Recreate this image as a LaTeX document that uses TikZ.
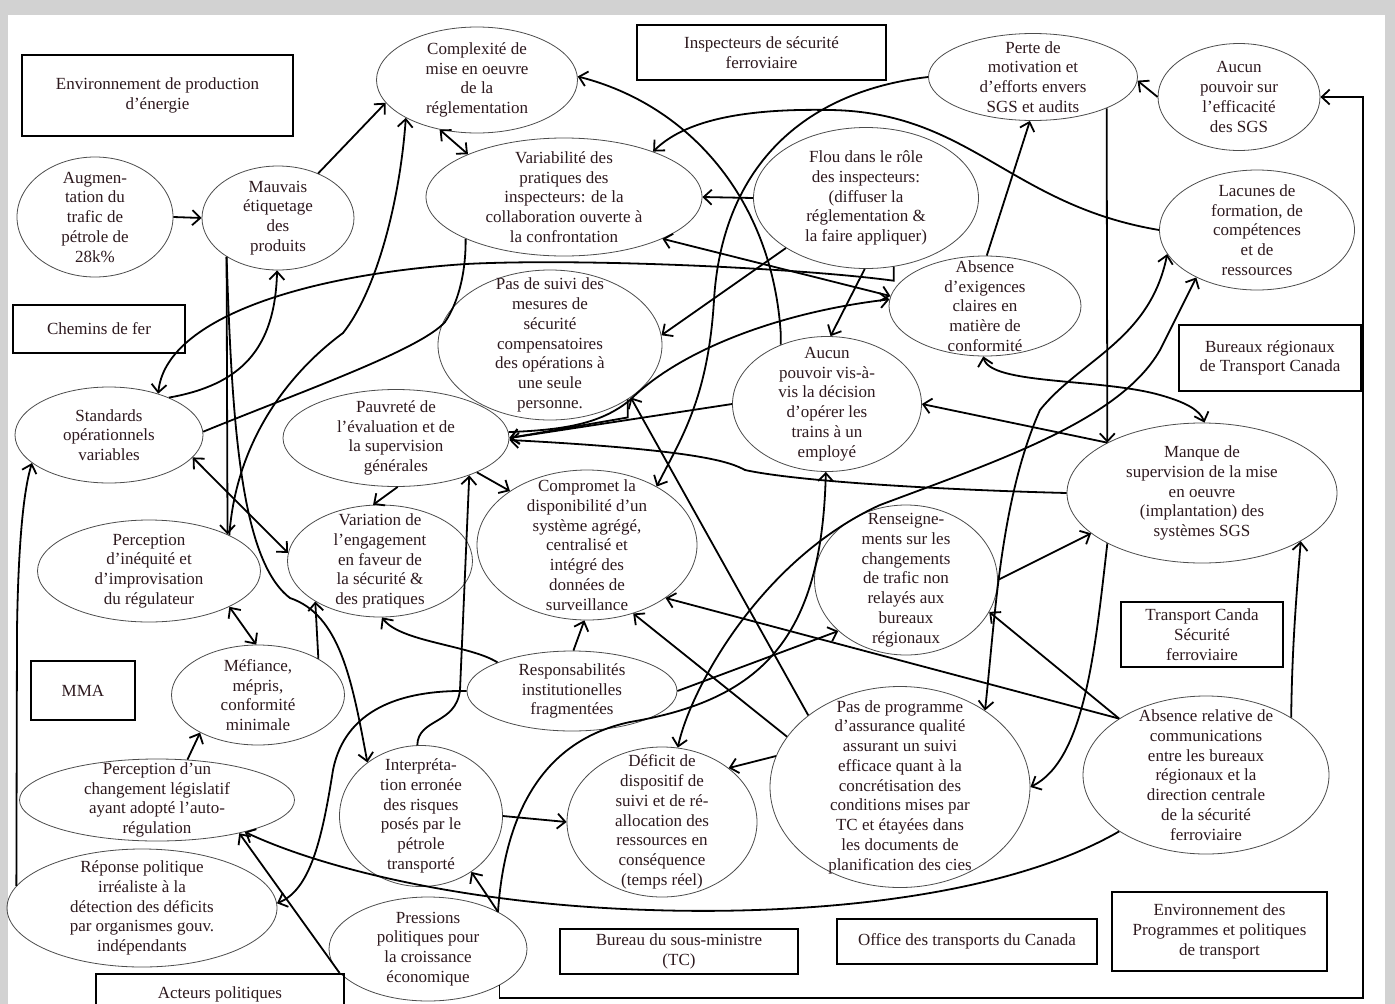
\documentclass[tikz,border=0pt]{standalone}
\usepackage{fontspec}
\setmainfont{Liberation Serif}
\usetikzlibrary{shapes.geometric,arrows.meta}
\newcommand\figfont{\fontsize{17}{19.75}\selectfont}
\definecolor{txt}{RGB}{45,25,30}
\tikzset{
 el/.style={ellipse, draw=black!70, line width=0.8pt, inner sep=0pt},
 tx/.style={align=center, inner sep=0pt, font=\figfont, text=txt},
 bx/.style={rectangle, draw=black, line width=2.8pt, inner sep=0pt, align=center, font=\figfont, text=txt},
 ln/.style={line width=1.8pt, black},
 ar/.style={ln, -{Straight Barb[length=8pt,width=15pt]}},
 dar/.style={ln, {Straight Barb[length=8pt,width=15pt]}-{Straight Barb[length=8pt,width=15pt]}},
}
\newcommand\elnode[6]{% name, x, y, w, h, text
 \node[el, minimum width=#4pt, minimum height=#5pt] (#1) at (#2,#3) {};
 \node[tx] (#1t) at (#2,#3) {#6};}
\begin{document}
\begin{tikzpicture}[x=1pt,y=-1pt]
\useasboundingbox (0,0) rectangle (1395,1004);
\fill[gray!35] (0,0) rectangle (1395,1004);
\fill[white] (8,15) rectangle (1385,1004);
% ellipses
\elnode{comp}{477}{80}{201}{106}{Complexité de\\mise en oeuvre\\de la\\réglementation}
\elnode{vari}{564}{197}{276}{118}{Variabilité des\\pratiques des\\inspecteurs: de la\\collaboration ouverte à\\la confrontation}
\elnode{flou}{866}{198}{225}{141}{Flou dans le rôle\\des inspecteurs:\\(diffuser la\\réglementation \&\\la faire appliquer)}
\elnode{perte}{1033}{77}{209}{87}{Perte de\\motivation et\\d'efforts envers\\SGS et audits}
\elnode{aucsgs}{1239}{97}{162}{107}{Aucun\\pouvoir sur\\l'efficacité\\des SGS}
\elnode{lacu}{1257}{230}{195}{120}{Lacunes de\\formation, de\\compétences\\et de\\ressources}
\elnode{absx}{985}{306}{192}{100}{Absence\\d'exigences\\claires en\\matière de\\conformité}
\elnode{augm}{95}{217}{156}{120}{Augmen-\\tation du\\trafic de\\pétrole de\\28k\%}
\elnode{mauv}{278}{218}{152}{104}{Mauvais\\étiquetage\\des\\produits}
\elnode{pasuivi}{550}{345}{224}{150}{Pas de suivi des\\mesures de\\sécurité\\compensatoires\\des opérations à\\une seule\\personne.}
\elnode{aucvis}{827}{404}{189}{135}{Aucun\\pouvoir vis-à-\\vis la décision\\d'opérer les\\trains à un\\employé}
\elnode{stand}{109}{435}{188}{96}{Standards\\opérationnels\\variables}
\elnode{pauv}{396}{438}{226}{97}{Pauvreté de\\l'évaluation et de\\la supervision\\générales}
\elnode{comprom}{587}{545}{220}{150}{Compromet la\\disponibilité d'un\\système agrégé,\\centralisé et\\intégré des\\données de\\surveillance}
\elnode{variat}{380}{561}{185}{112}{Variation de\\l'engagement\\en faveur de\\la sécurité \&\\des pratiques}
\elnode{perceq}{149}{571}{223}{102}{Perception\\d'inéquité et\\d'improvisation\\du régulateur}
\elnode{manque}{1202}{493}{270}{140}{Manque de\\supervision de la mise\\en oeuvre\\(implantation) des\\systèmes SGS}
\elnode{rens}{906}{580}{183}{150}{Renseigne-\\ments sur les\\changements\\de trafic non\\relayés aux\\bureaux\\régionaux}
\elnode{mefi}{258}{695}{173}{100}{Méfiance,\\mépris,\\conformité\\minimale}
\elnode{resp}{572}{691}{210}{80}{Responsabilités\\institutionelles\\fragmentées}
\elnode{percch}{157}{800}{275}{82}{Perception d'un\\changement législatif\\ayant adopté l'auto-\\régulation}
\elnode{interp}{421}{816}{163}{141}{Interpréta-\\tion erronée\\des risques\\posés par le\\pétrole\\transporté}
\elnode{defic}{662}{822}{190}{150}{Déficit de\\dispositif de\\suivi et de ré-\\allocation des\\ressources en\\conséquence\\(temps réel)}
\elnode{pasprog}{900}{787}{260}{201}{Pas de programme\\d'assurance qualité\\assurant un suivi\\efficace quant à la\\concrétisation des\\conditions mises par\\TC et étayées dans\\les documents de\\planification des cies}
\elnode{absrel}{1206}{775}{246}{158}{Absence relative de\\communications\\entre les bureaux\\régionaux et la\\direction centrale\\de la sécurité\\ferroviaire}
\elnode{reppol}{142}{908}{270}{118}{Réponse politique\\irréaliste à la\\détection des déficits\\par organismes gouv.\\indépendants}
\elnode{press}{428}{949}{198}{104}{Pressions\\politiques pour\\la croissance\\économique}
% boxes
\node[bx, minimum width=271pt, minimum height=81pt] (envprod) at (157.5,95.5) {Environnement de production\\d'énergie};
\node[bx, minimum width=249pt, minimum height=55pt] (insp) at (761.5,52.5) {Inspecteurs de sécurité\\ferroviaire};
\node[bx, minimum width=172pt, minimum height=48pt] (chemins) at (99,329) {Chemins de fer};
\node[bx, minimum width=182pt, minimum height=66pt] (bureaux) at (1270,358) {Bureaux régionaux\\de Transport Canada};
\node[bx, minimum width=162pt, minimum height=65pt] (tcsf) at (1202,634.5) {Transport Canda\\Sécurité\\ferroviaire};
\node[bx, minimum width=104pt, minimum height=59pt] (mma) at (83,690.5) {MMA};
\node[bx, minimum width=248pt, minimum height=40pt] (acteurs) at (220,994) {Acteurs politiques};
\node[bx, minimum width=238pt, minimum height=45pt] (bsm) at (679,951.5) {Bureau du sous-ministre\\(TC)};
\node[bx, minimum width=260pt, minimum height=45pt] (office) at (967,941.5) {Office des transports du Canada};
\node[bx, minimum width=215pt, minimum height=79pt] (envprog) at (1219.5,931.5) {Environnement des\\Programmes et politiques\\de transport};
\coordinate (fbr) at (1363,998);
% connectors
\draw[ar] (augm.0) -- (mauv.180);
\draw[ar] (mauv.48) -- (comp.194);
\draw[dar] (comp.233) -- (vari.156);
\draw[ar] (aucvis.128) -- ++(0,-12) .. controls (772,200) and (690,105) .. (comp.2);
\draw[ar] (flou.180) -- (vari.0);
\draw[ar] (lacu.180) .. controls (1010,205) and (970,112) .. (830,110) .. controls (730,108) and (680,125) .. (vari.27);
\draw[ar] (perte.180) .. controls (800,92) and (722,170) .. (714,300) .. controls (708,400) and (680,440) .. (comprom.40);
\draw[ar] (absx.88) -- (perte.266);
\draw[ar] (aucsgs.180) -- (perte.-2);
\draw[ar] (perte.-23) -- (manque.152);
\draw[ar] (flou.-91) -- (aucvis.87);
\draw[ar] (flou.212) -- (pasuivi.5);
\draw[ar] (flou.-68) -- ++(0,14) .. controls (800,268) and (580,258) .. (466,264) .. controls (300,275) and (165,320) .. (stand.40);
\draw[dar] (vari.-23) -- (absx.174);
\draw[ar] (pauv.3) .. controls (560,430) and (600,425) .. (630,400) .. controls (680,350) and (780,312) .. (absx.176);
\draw[ar] (perceq.24) .. controls (236,440) and (290,372) .. (343,333) .. controls (377,290) and (400,200) .. (comp.208);
\draw[ln] (stand.2) .. controls (300,392) and (420,350) .. (445,322) .. controls (460,300) and (466,268) .. (vari.203);
\draw[ar] (stand.32) .. controls (240,385) and (275,350) .. (mauv.-91);
\draw[ar] (mauv.217) -- (perceq.25);
\draw[ar] (mauv.217) .. controls (232,420) and (240,560) .. (290,598) .. controls (340,615) and (352,680) .. (interp.135);
\draw[dar] (stand.-15) -- (variat.175);
\draw[dar] (perceq.-24) -- (mefi.92);
\draw[ar] (mefi.31) -- (variat.212);
\draw[ar] (pauv.-88) -- (variat.97);
\draw[ar] (pauv.-23) -- (comprom.145);
\draw[ar] (interp.93) .. controls (418,718) and (456,725) .. (460,690) -- (pauv.-27);
\draw[ar] (resp.159) .. controls (470,645) and (400,642) .. (variat.-88);
\draw[ar] (resp.88) -- (comprom.-92);
\draw[ar] (pasprog.156) -- (comprom.-56);
\draw[ar] (pasprog.142) -- (pasuivi.-33);
\draw[ar] (pasuivi.-35) -- ++(0,18) -- (pauv.0);
\draw[ar] (aucvis.180) -- (pauv.0);
\draw[ar] (manque.180) .. controls (950,490) and (800,482) .. (745,470) .. controls (730,462) and (700,450) .. (pauv.-1);
\draw[dar] (absx.-92) .. controls (990,385) and (1100,378) .. (1160,395) .. controls (1185,402) and (1200,410) .. (manque.88);
\draw[ar] (manque.152) -- (aucvis.0);
\draw[ar] (manque.208) .. controls (1095,650) and (1085,760) .. (pasprog.0);
\draw[ar] (rens.0) -- (manque.200);
\draw[ar] (absrel.147) -- (rens.-21);
\draw[ar] (absrel.147) -- (comprom.-34);
\draw[ar] (absrel.34.5) .. controls (1292,650) and (1296,600) .. (manque.-26);
\draw[ar] (absrel.213) .. controls (1000,900) and (800,915) .. (650,910) .. controls (480,905) and (330,872) .. (percch.-20);
\draw[ar] (press.195) -- (percch.-22);
\draw[ar] (resp.180) .. controls (400,690) and (345,710) .. (333,770) .. controls (322,840) and (310,890) .. (reppol.2);
\draw[ar] (interp.0) -- (defic.180);
\draw[ar] (press.28) -- (interp.-48);
\draw[ar] (press.-27.5) |- (fbr) -- (fbr |- aucsgs.0) -- (aucsgs.0);
\draw[ar] (reppol.170) -- (17,630) .. controls (18,560) and (22,495) .. (stand.200);
\draw[ar] (percch.53) -- (mefi.213);
\draw[ar] (press.28) .. controls (505,810) and (545,740) .. (630,722) .. controls (760,700) and (822,640) .. (aucvis.-91);
\draw[dar] (defic.78) .. controls (690,690) and (760,560) .. (880,505) .. controls (1000,460) and (1120,420) .. (1160,350) .. controls (1175,320) and (1185,300) .. (lacu.218);
\draw[dar] (pasprog.42) .. controls (995,620) and (1000,500) .. (1040,410) .. controls (1080,360) and (1150,340) .. (lacu.195);
\draw[ar] (pasprog.166) -- (defic.39);
\draw[ar] (resp.0) -- (rens.217);
\end{tikzpicture}
\end{document}
